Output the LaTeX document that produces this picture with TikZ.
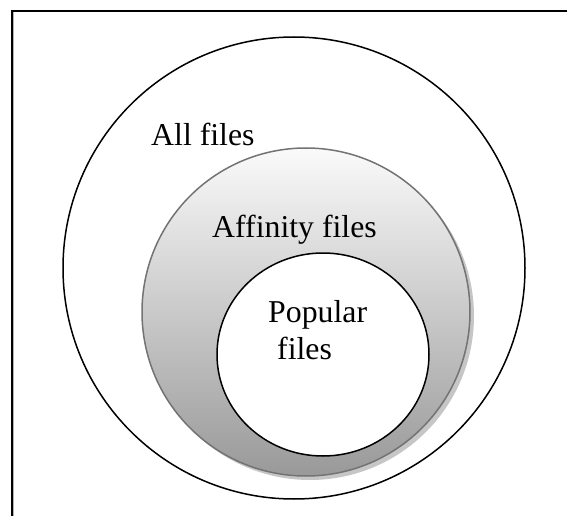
\documentclass[tikz,border=0pt]{standalone}
\usepackage{fontspec}
\setmainfont{Liberation Serif}
\usetikzlibrary{shapes.geometric}
\begin{document}
\begin{tikzpicture}[x=1pt,y=-1pt,
  label text/.style={font=\fontsize{31.8}{37}\selectfont, inner sep=0pt, anchor=base west},
  ring/.style={line width=1.5pt}]
\useasboundingbox (0,0) rectangle (568,516);
% frame (open at the right and bottom)
\draw[gray!60, line width=0.8pt] (13.7,12) -- (13.7,516);
\draw[line width=1.6pt] (12,516) -- (12,11) -- (567,11);
% outer set
\node[draw, ring, circle, minimum size=462pt, inner sep=0pt] (all) at (294,268) {};
% affinity set with soft shadow and vertical shading
\fill[gray!45] (310,316) circle[radius=164];
\shade[top color=white!98!black, bottom color=black!40] (306,312) circle[radius=164];
\node[draw=black!55, line width=1.5pt, circle, minimum size=328pt, inner sep=0pt] (aff) at (306,312) {};
% popular set
\node[draw, ring, fill=white, ellipse, minimum width=212pt, minimum height=203pt, inner sep=0pt] (pop) at (323,354.5) {};
% labels
\node[label text] (tall) at (151,146) {All files};
\node[label text] (taff) at (212,237) {Affinity files};
\node[label text] (tpop1) at (268,322) {Popular};
\node[label text] (tpop2) at (277,359) {files};
\end{tikzpicture}
\end{document}
